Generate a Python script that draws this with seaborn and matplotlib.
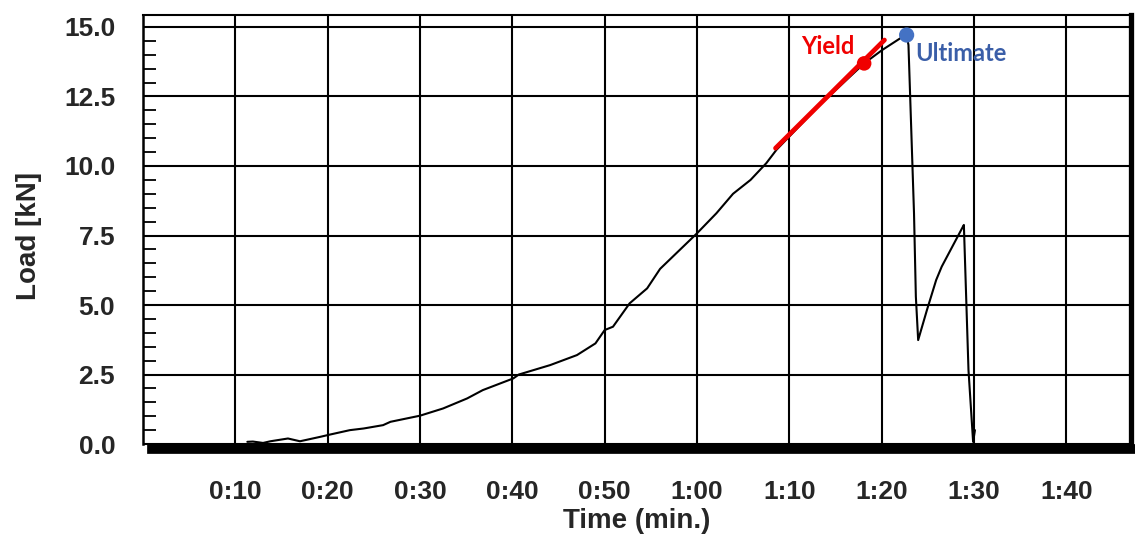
import matplotlib
matplotlib.use("Agg")
import matplotlib.pyplot as plt
import seaborn as sns
import pandas as pd
from matplotlib.ticker import MultipleLocator, FixedLocator

# ---- data (time in seconds, load in kN) ----
time_s = [11.3, 11.9, 13.0, 13.8, 15.7, 17.0, 19.2, 20.1, 22.4, 23.9, 26.0, 26.8,
          30.0, 32.5, 35.1, 36.8, 40.1, 40.7, 44.1, 47.0, 49.0, 50.0, 50.9, 52.7,
          54.6, 56.0, 58.5, 60.0, 62.1, 63.9, 65.8, 67.5, 68.6, 73.3, 78.1, 80.05,
          82.0, 82.7, 82.9, 83.5, 83.7, 83.95, 84.9, 85.9, 86.5, 88.8, 88.9, 89.4,
          89.9, 90.1]
load_kn = [0.08, 0.09, 0.04, 0.10, 0.20, 0.10, 0.26, 0.33, 0.50, 0.56, 0.68, 0.80,
           1.02, 1.28, 1.64, 1.94, 2.36, 2.50, 2.84, 3.20, 3.62, 4.10, 4.22, 5.06,
           5.60, 6.30, 7.10, 7.58, 8.30, 9.00, 9.50, 10.10, 10.58, 12.20, 13.69, 14.17,
           14.59, 14.71, 14.35, 8.30, 5.30, 3.74, 4.82, 5.90, 6.38, 7.82, 7.88, 2.66,
           0.08, 0.50]

yield_line_t = [68.5, 80.3]
yield_line_load = [10.64, 14.53]
yield_pt = [78.1, 13.69]
ultimate_pt = [82.7, 14.71]

x_ticks = [10, 20, 30, 40, 50, 60, 70, 80, 90, 100]
x_labels = ["0:10", "0:20", "0:30", "0:40", "0:50", "1:00", "1:10", "1:20", "1:30", "1:40"]
y_ticks = [0.0, 2.5, 5.0, 7.5, 10.0, 12.5, 15.0]

sns.set_style("white")
plt.rcParams['font.family'] = ['Liberation Sans', 'DejaVu Sans']

fig = plt.figure(figsize=(11.35, 5.37), dpi=100)
ax = fig.add_axes([143/1135, 1 - 448.5/537, (1131 - 143)/1135, (448.5 - 15)/537])

df = pd.DataFrame({"t": time_s, "load": load_kn})
sns.lineplot(data=df, x="t", y="load", ax=ax, color="black", lw=1.5, sort=False,
             estimator=None, zorder=3)
sns.lineplot(x=yield_line_t, y=yield_line_load, ax=ax, color="#F00000", lw=3.4,
             estimator=None, zorder=4)
sns.scatterplot(x=[yield_pt[0]], y=[yield_pt[1]], ax=ax, color="#F00000", s=110,
                edgecolor="none", zorder=5)
sns.scatterplot(x=[ultimate_pt[0]], y=[ultimate_pt[1]], ax=ax, color="#4472C4", s=120,
                edgecolor="none", zorder=5)

ax.annotate("Yield", xy=(yield_pt[0], yield_pt[1]), xytext=(-7, 12),
            textcoords="offset points", ha="right", va="center", color="#F00000",
            fontsize=17, fontweight="bold", family=["Lato", "DejaVu Sans"])
ax.annotate("Ultimate", xy=(ultimate_pt[0], ultimate_pt[1]), xytext=(6, -13),
            textcoords="offset points", ha="left", va="center", color="#3A5EA8",
            fontsize=17, fontweight="bold", family=["Lato", "DejaVu Sans"])

ax.set_xlim(0, 107)
ax.set_ylim(-0.16, 15.43)

ax.xaxis.set_major_locator(FixedLocator(x_ticks))
ax.set_xticklabels(x_labels)
ax.yaxis.set_major_locator(FixedLocator(y_ticks))
ax.set_yticklabels([f"{v:.1f}" for v in y_ticks])
ax.yaxis.set_minor_locator(MultipleLocator(0.5))

ax.grid(True, which="major", axis="both", color="black", lw=1.5, zorder=1)
ax.set_axisbelow(True)

ax.tick_params(axis="x", which="major", direction="out", length=14, width=1.5,
               color="black", pad=9, labelsize=19)
ax.tick_params(axis="y", which="major", direction="out", length=11, width=1.5,
               color="black", pad=9, labelsize=19)
ax.tick_params(axis="y", which="minor", direction="in", length=9.5, width=1.3,
               color="black", left=True)
for lab in ax.get_xticklabels() + ax.get_yticklabels():
    lab.set_fontweight("bold")

for s in ax.spines.values():
    s.set_color("black")
ax.spines["top"].set_linewidth(1.5)
ax.spines["right"].set_linewidth(3.8)
ax.spines["left"].set_linewidth(1.8)
ax.spines["left"].set_bounds(0, 15.43)
ax.spines["bottom"].set_linewidth(7)
ax.spines["bottom"].set_bounds(1.0, 107)

ax.set_xlabel("Time (min.)", fontsize=20, fontweight="bold")
ax.set_ylabel("Load [kN]", fontsize=20, fontweight="bold")
ax.xaxis.set_label_coords(0.5, -0.137)
ax.yaxis.set_label_coords(-0.102, 0.49)

fig.savefig("out.png", dpi=100)
